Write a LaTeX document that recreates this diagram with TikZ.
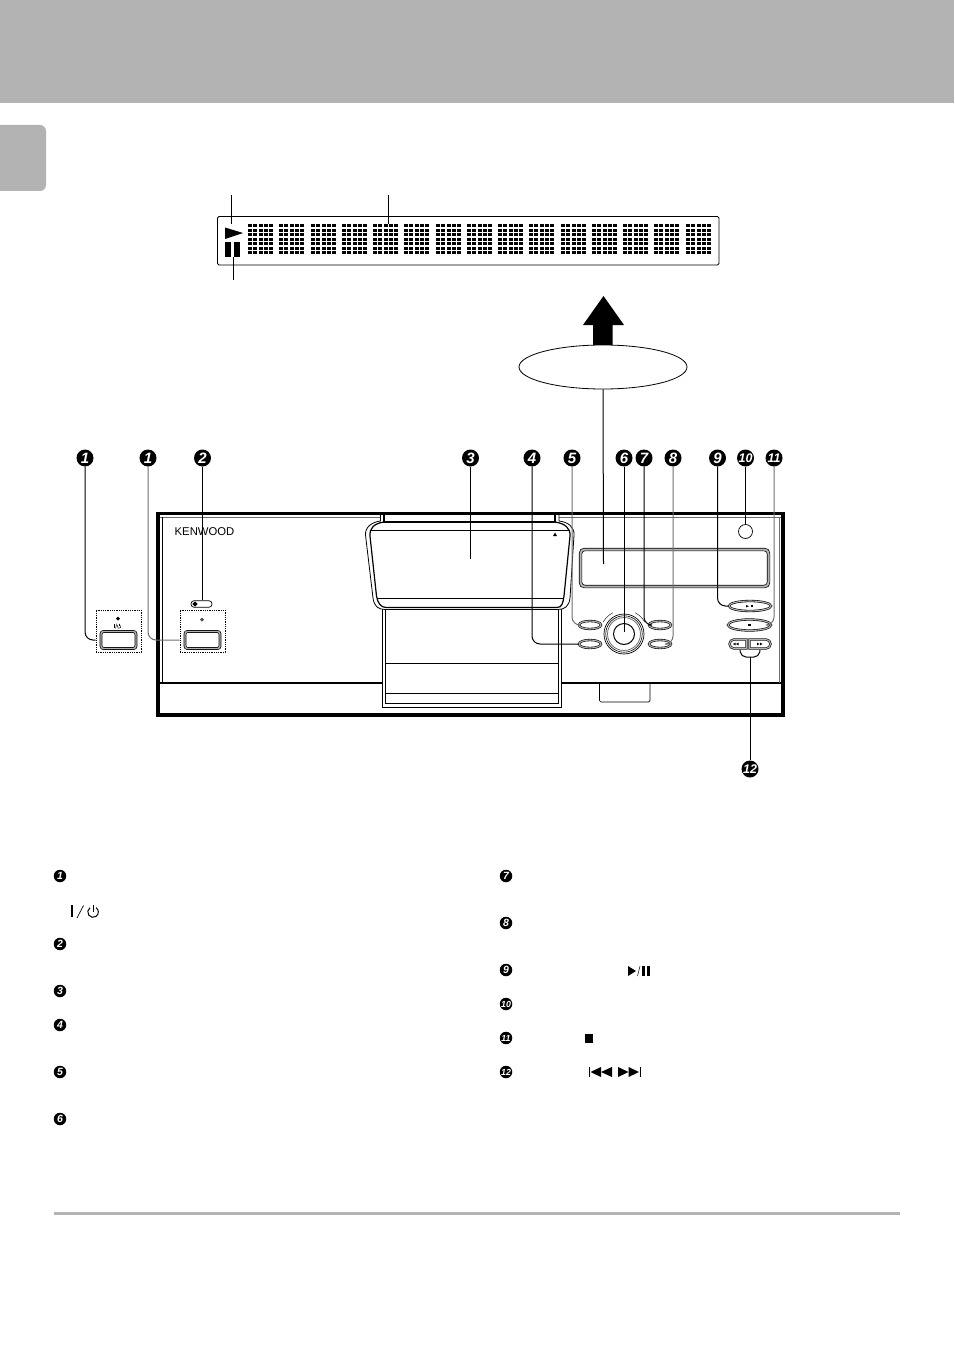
\documentclass[tikz,border=0pt]{standalone}
\usepackage{fontspec}
\setmainfont{Liberation Sans}
\usetikzlibrary{calc,shapes.geometric,shapes.misc}
\definecolor{hdr}{HTML}{B3B3B3}
\definecolor{midg}{HTML}{6E6E6E}
\tikzset{
  badge/.style={circle,fill=black,inner sep=0pt,minimum size=17pt,text=white,font=\fontsize{15}{15}\selectfont\bfseries\itshape},
  badgetwo/.style={badge,font=\fontsize{12.5}{12.5}\selectfont\bfseries\itshape},
  minibadge/.style={circle,fill=black,inner sep=0pt,minimum size=12.5pt,text=white,font=\fontsize{10.5}{10.5}\selectfont\bfseries\itshape},
  minitwo/.style={minibadge,font=\fontsize{8.8}{8.8}\selectfont\bfseries\itshape},
  leader/.style={draw=black,line width=1pt,rounded corners=8pt},
  gleader/.style={draw=midg,line width=1pt,rounded corners=8pt},
  pill/.style={ellipse,draw=black,line width=.6pt,double=hdr,double distance=1.1pt,fill=white,inner sep=0pt},
  halfpill/.style={rounded rectangle,draw=black,line width=.6pt,double=hdr,double distance=1.1pt,fill=white,inner sep=0pt},
  keybtn/.style={draw=black,line width=.7pt,double=hdr,double distance=1.4pt,fill=white,rounded corners=2.5pt,inner sep=0pt,minimum width=35pt,minimum height=17pt},
  dotbox/.style={draw=black,line width=.8pt,densely dotted,inner sep=0pt,minimum width=45pt,minimum height=42pt},
  thin line/.style={draw=black,line width=1pt},
}
\begin{document}
\begin{tikzpicture}[x=1pt,y=-1pt]
\useasboundingbox (0,0) rectangle (954,1351);
% page furniture
\fill[hdr] (0,0) rectangle (954,103);
\fill[hdr,rounded corners=6pt] (-10,125) -- (46,125) -- (46,191) -- (-10,191) -- cycle;
\fill[hdr] (54,1211.5) rectangle (900,1215);
% ---- display close-up
\draw[line width=.9pt,rounded corners=1.5pt] (217.5,216.5) rectangle (719,265);
\foreach \m in {0,...,14}{
  \pgfmathsetmacro{\mx}{round(248+\m*31.25)}
  \foreach \c in {0,...,4}{
    \foreach \r in {0,...,6}{
      \fill (\mx+\c*5.3,224.3+\r*4.5) rectangle ++(3.9,3);
    }
  }
}
\fill (225,227.5) -- (243,233) -- (225,239) -- cycle;
\fill (225,242) rectangle (231,257);
\fill (234,242) rectangle (240,257);
\coordinate (lp1) at (231.5,195); \coordinate (lp2) at (231.5,224);
\coordinate (lm1) at (388,195); \coordinate (lm2) at (388,224);
\coordinate (lq1) at (233.5,257); \coordinate (lq2) at (233.5,280);
\draw[thin line] (lp1) -- (lp2);
\draw[thin line] (lm1) -- (lm2);
\draw[thin line] (lq1) -- (lq2);
% big arrow and ellipse
\fill (603.5,296) -- (624,325) -- (612.5,325) -- (612.5,346) -- (593,346) -- (593,325) -- (583,325) -- cycle;
\node[ellipse,draw=black,line width=.8pt,fill=white,minimum width=168pt,minimum height=44pt,inner sep=0pt] (bubble) at (603,367) {};
% ---- device
\draw[line width=1.8pt] (158,683) -- (783,683);
\draw[midg,line width=1pt] (160,517) -- (781,517);
\draw[line width=.7pt] (162.5,517) -- (162.5,683);
\draw[midg,line width=.8pt] (779,517) -- (779,683);
\node[anchor=west,inner sep=0pt,font=\fontsize{11.3}{12}\selectfont] (logo) at (174.5,532) {KENWOOD};
% bump
\draw[line width=.7pt,rounded corners=1.5pt] (599.5,683) -- (599.5,702) -- (650,702) -- (650,683);
% tray lower box
\draw[line width=.8pt,fill=white] (382.5,600) -- (382.5,707) -- (561.5,707) -- (561.5,600);
\draw[line width=1pt] (385.5,600) -- (385.5,703.5) -- (558.5,703.5) -- (558.5,600);
\draw[line width=.8pt] (385.5,663.5) -- (558.5,663.5);
\draw[line width=.8pt] (385.5,693.5) -- (558.5,693.5);
% tray door
\draw[line width=.8pt,fill=white] (380.5,514) -- (380.5,521) .. controls (372,522) and (365,527) .. (365.5,535) -- (373,598) .. controls (374,606) and (378,609.5) .. (385,609.5) -- (558,609.5) .. controls (565,609.5) and (569,606) .. (570,598) -- (574,535) .. controls (574.5,527) and (568,522) .. (559,521) -- (559,514);
\draw[line width=1.2pt] (384,514) -- (384,522) -- (555,522) -- (555,514);
\draw[line width=1.2pt] (384,522) .. controls (374,523.5) and (369.5,528) .. (370,536) -- (376.5,596) .. controls (377.5,603) and (381,607.5) .. (386,607.5) -- (557,607.5) .. controls (562,607.5) and (563,603) .. (564,596) -- (570,536) .. controls (570.5,528) and (565,523.5) .. (555,522);
\draw[line width=.8pt] (370,530.5) -- (570,530.5);
\draw[line width=.8pt] (377,598.5) -- (564,598.5);
\fill (555,532.5) -- (557,536) -- (553,536) -- cycle;
% device outline on top of the tray
\draw[line width=3.2pt] (158,513.5) rectangle (783,715);
% device display window
\node[draw=black,line width=.7pt,double=hdr,double distance=2pt,fill=white,rounded corners=4pt,inner sep=0pt,minimum width=188pt,minimum height=37pt] (window) at (674.5,568) {};
% IR sensor
\node[circle,draw=black,line width=.7pt,inner sep=0pt,minimum size=14pt] (sensor) at (745.5,531.5) {};
% buttons
\node[pill,minimum width=22pt,minimum height=8pt] (btnA) at (590,625) {};
\node[pill,minimum width=22pt,minimum height=8pt] (btnB) at (590,644) {};
\node[pill,minimum width=22pt,minimum height=8pt] (btnC) at (660,625) {};
\node[pill,minimum width=22pt,minimum height=8pt] (btnD) at (660,644) {};
\node[pill,minimum width=42pt,minimum height=10pt] (btnPlay) at (750,606) {};
\node[pill,minimum width=43pt,minimum height=11pt] (btnStop) at (749.5,625) {};
\node[halfpill,rounded rectangle right arc=none,minimum width=17pt,minimum height=9pt] (btnPrev) at (738,644) {};
\node[halfpill,rounded rectangle left arc=none,minimum width=21pt,minimum height=9pt] (btnNext) at (760,644) {};
\fill (746,605) -- (749,606.2) -- (746,607.4) -- cycle;
\fill (750.5,605) rectangle (751.5,607.4);
\fill (752.3,605) rectangle (753.3,607.4);
\fill (748.2,623.5) rectangle (751,626.3);
\foreach \xx in {733,736}{\fill (\xx+2.5,642.6) -- (\xx+2.5,645.4) -- (\xx,644) -- cycle;}
\foreach \xx in {757,760}{\fill (\xx,642.6) -- (\xx,645.4) -- (\xx+2.5,644) -- cycle;}
% knob
\node[circle,draw=black,line width=.7pt,fill=white,inner sep=0pt,minimum size=40pt] (knob) at (624,634) {};
\node[circle,draw=black,line width=.6pt,inner sep=0pt,minimum size=36.5pt] at (knob) {};
\node[circle,draw=midg,line width=.8pt,inner sep=0pt,minimum size=33pt] at (knob) {};
\node[circle,draw=black,line width=1pt,inner sep=0pt,minimum size=21pt] (knobcore) at (knob) {};
\draw[line width=.4pt] ($(knob)+(-118:24)$) arc[start angle=-118,end angle=-150,radius=24];
\draw[line width=.4pt] ($(knob)+(-30:24)$) arc[start angle=-30,end angle=-62,radius=24];
% standby and power switches
\node[dotbox] (boxL) at (118.5,631) {};
\node[dotbox] (boxR) at (202.5,631) {};
\node[keybtn] (keyL) at (118.5,640) {};
\node[keybtn] (keyR) at (202.5,640) {};
\fill (118,616.5) -- (120,618.5) -- (118,620.5) -- (116,618.5) -- cycle;
\draw[line width=.5pt] (114.3,624) -- (114.3,628);
\draw[line width=.4pt] (115.5,628.5) -- (117,623.5);
\draw[line width=.4pt] (120,625) arc[start angle=-60,end angle=240,radius=1.9];
\draw[line width=.4pt] (119,623.5) -- (119,626);
\fill[black!70] (202,617.5) -- (204,619.5) -- (202,621.5) -- (200,619.5) -- cycle;
\node[draw=black,line width=.7pt,fill=white,rounded corners=3pt,inner sep=0pt,minimum width=21pt,minimum height=6.5pt] (led) at (201.5,604) {};
\fill (195,601.5) -- (197.6,604) -- (195,606.5) -- (192.4,604) -- cycle;
% badges
\node[badge] (n1a) at (85,458) {1};
\node[badge] (n1b) at (148,458) {1};
\node[badge] (n2) at (202.5,458) {2};
\node[badge] (n3) at (470.5,458) {3};
\node[badge] (n4) at (532,458) {4};
\node[badge] (n5) at (572,458) {5};
\node[badge] (n6) at (624,458) {6};
\node[badge] (n7) at (644,458) {7};
\node[badge] (n8) at (673,458) {8};
\node[badge] (n9) at (717.5,458) {9};
\node[badgetwo] (n10) at (745.5,458) {10};
\node[badgetwo] (n11) at (774,458) {11};
\node[badgetwo] (n12) at (750,769) {12};
% leaders
\coordinate (door) at (470.5,559);
\coordinate (knobc) at (624,632);
\coordinate (wintgt) at (603.5,564);
\draw[leader] (bubble.south) -- (wintgt);
\draw[leader] (n1a.south) |- (boxL.west |- keyL);
\draw[gleader] (n1b.south) |- (boxR.west |- keyR);
\draw[leader] (n2.south) -- (led.north -| n2);
\draw[leader] (n3.south) -- (door);
\draw[leader] (n4.south) |- (btnB.west);
\draw[gleader] (n5.south) |- (btnA.west);
\draw[leader] (n6.south) -- (knobc);
\draw[leader] (n7.south) |- (btnC.west);
\draw[gleader] (n8.south) |- (btnD.east);
\draw[leader] (n9.south) |- (btnPlay.west);
\draw[leader] (n10.south) -- (sensor.north);
\draw[gleader] (n11.south) |- (btnStop.east);
\coordinate (brk) at (750,657);
\draw[leader,rounded corners=5pt] (740,650) -- (741,657) -- (759,657) -- (760,650);
\draw[leader] (brk) -- (n12.north);
% list markers
\foreach \nm/\lab/\xx/\yy in {m1/1/60/876,m2/2/60/944,m3/3/60/991,m4/4/60/1025,m5/5/60/1072,m6/6/60/1119,m7/7/506/876,m8/8/506/923,m9/9/506/970}{
  \node[minibadge] (\nm) at (\xx,\yy) {\lab};
}
\foreach \nm/\lab/\xx/\yy in {m10/10/506/1004,m11/11/506/1038,m12/12/506/1072}{
  \node[minitwo] (\nm) at (\xx,\yy) {\lab};
}
% list symbols
\fill (71,905) rectangle (73.2,917);
\draw[line width=.7pt] (77,918) -- (83.5,905.5);
\draw[line width=1pt] (90,907.7) arc[start angle=-125,end angle=-415,radius=5.3];
\draw[line width=1pt] (93,905) -- (93,911.5);
\fill (628,966) -- (636,971) -- (628,976) -- cycle;
\draw[line width=.5pt] (637.5,976) -- (640,966);
\fill (642,966) rectangle (645,976);
\fill (647,966) rectangle (650,976);
\fill (584.5,1034) rectangle (593,1043);
\fill (589,1066.5) rectangle (590,1077);
\fill (590.5,1072) -- (601,1067) -- (601,1077) -- cycle;
\fill (601,1072) -- (612,1067) -- (612,1077) -- cycle;
\fill (618,1067) -- (628.5,1072) -- (618,1077) -- cycle;
\fill (628.5,1067) -- (639,1072) -- (628.5,1077) -- cycle;
\fill (639.5,1066.5) rectangle (640.5,1077);
\end{tikzpicture}
\end{document}
